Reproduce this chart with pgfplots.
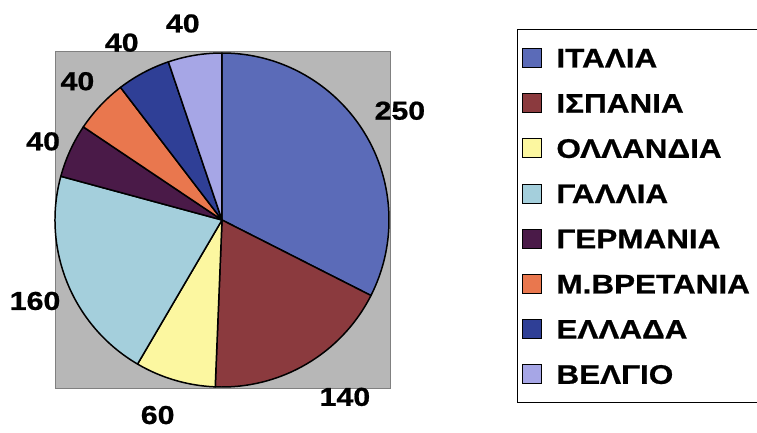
\documentclass[border=0pt]{standalone}
\usepackage{pgfplots}
\pgfplotsset{compat=1.18}
\usepackage{pgfplotstable}
\usepackage{fontspec}
\setmainfont{Liberation Sans}[FakeStretch=1.17, BoldFeatures={FakeBold=0.8}]

\definecolor{cItaly}{HTML}{5B6BB8}
\definecolor{cSpain}{HTML}{8B3A3E}
\definecolor{cHolland}{HTML}{FCF7A0}
\definecolor{cFrance}{HTML}{A4CFDC}
\definecolor{cGermany}{HTML}{4A1A48}
\definecolor{cUK}{HTML}{E9774E}
\definecolor{cGreece}{HTML}{2F3F96}
\definecolor{cBelgium}{HTML}{A6A6E6}
\definecolor{bgGray}{HTML}{B7B7B7}

% value, slice colour, label angle shift (deg), label distance (radii)
\pgfplotstableread{
value color dang dist
250 cItaly 0 1.25
140 cSpain 4.4 1.29
60 cHolland -1.9 1.23
160 cFrance 1.2 1.22
40 cGermany 0.8 1.17
40 cUK -0.6 1.20
40 cGreece 1.4 1.22
40 cBelgium 1.9 1.20
}\piedata

\begin{document}
\begin{tikzpicture}
\begin{axis}[
  scale only axis, width=757bp, height=433bp,
  xmin=-1.3293, xmax=3.2036, ymin=-1.2754, ymax=1.3174,
  hide axis, clip=false,
  legend image code/.code={\draw[#1, line width=1pt] (0bp,-9.5bp) rectangle (19bp,9.5bp);},
  legend cell align=left,
  legend style={at={(axis cs:1.766,1.144)}, anchor=north west,
    draw=black, line width=1pt, font=\fontsize{27}{29}\selectfont\bfseries,
    inner xsep=5bp, inner ysep=18.5bp, row sep=25.2bp, column sep=14bp,
    nodes={text height=19bp, text depth=0pt, inner sep=0pt}},
]
\pgfplotsextra{%
  \filldraw[fill=bgGray, draw=gray, line width=0.8pt] (axis cs:-1.0,-1.01) rectangle (axis cs:1.01,1.01);
  \gdef\total{0}%
  \pgfplotstableforeachcolumnelement{value}\of\piedata\as\v{%
    \pgfmathsetmacro\t{\total+\v}\xdef\total{\t}}%
  \gdef\angA{90}%
  \pgfplotstableforeachcolumnelement{value}\of\piedata\as\v{%
    \pgfplotstablegetelem{\pgfplotstablerow}{color}\of\piedata
    \edef\col{\pgfplotsretval}%
    \pgfplotstablegetelem{\pgfplotstablerow}{dang}\of\piedata
    \edef\da{\pgfplotsretval}%
    \pgfplotstablegetelem{\pgfplotstablerow}{dist}\of\piedata
    \edef\ld{\pgfplotsretval}%
    \pgfmathsetmacro\angB{\angA-\v/\total*360}%
    \pgfmathsetmacro\angM{(\angA+\angB)/2+\da}%
    \pgfmathsetmacro\rl{167*\ld}%
    \filldraw[fill=\col, draw=black, line width=1.5pt, line join=round]
      (axis cs:0,0) -- ++(\angA:167bp) arc[start angle=\angA, end angle=\angB, radius=167bp] -- cycle;
    \node[font=\fontsize{26}{28}\selectfont\bfseries] at ([shift={(\angM:\rl bp)}]axis cs:0,0) {\v};
    \xdef\angA{\angB}%
  }%
}
\addlegendimage{fill=cItaly}\addlegendentry{ΙΤΑΛΙΑ}
\addlegendimage{fill=cSpain}\addlegendentry{ΙΣΠΑΝΙΑ}
\addlegendimage{fill=cHolland}\addlegendentry{ΟΛΛΑΝΔΙΑ}
\addlegendimage{fill=cFrance}\addlegendentry{ΓΑΛΛΙΑ}
\addlegendimage{fill=cGermany}\addlegendentry{ΓΕΡΜΑΝΙΑ}
\addlegendimage{fill=cUK}\addlegendentry{Μ.ΒΡΕΤΑΝΙΑ\hspace*{12bp}}
\addlegendimage{fill=cGreece}\addlegendentry{ΕΛΛΑΔΑ}
\addlegendimage{fill=cBelgium}\addlegendentry{ΒΕΛΓΙΟ}
\end{axis}
\pgfresetboundingbox
\path (current axis.south west) rectangle (current axis.north east);
\end{tikzpicture}
\end{document}
